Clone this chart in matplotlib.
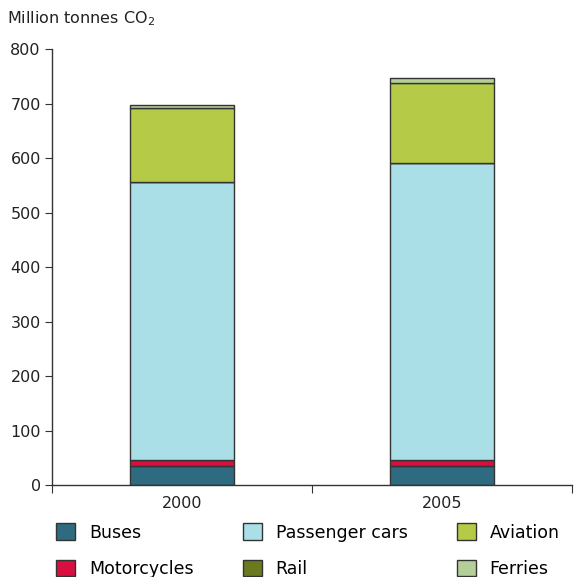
import matplotlib
matplotlib.use("Agg")
import matplotlib.pyplot as plt
import numpy as np

years = ["2000", "2005"]
categories = ["Buses", "Motorcycles", "Passenger cars", "Rail", "Aviation", "Ferries"]
buses = [34, 34]
motorcycles = [12, 12]
passenger_cars = [510, 544]
rail = [0.5, 0.5]
aviation = [136, 147]
ferries = [5, 9]
colors = ["#2E6B80", "#D7103F", "#ABDFE8", "#6B7A1F", "#B5CB48", "#B5CF98"]
yticks = [0, 100, 200, 300, 400, 500, 600, 700, 800]

series = [buses, motorcycles, passenger_cars, rail, aviation, ferries]

fig = plt.figure(figsize=(5.77, 5.77), dpi=100)
ax = fig.add_axes([0.090, 0.1594, 0.901, 0.7556])

x = np.array([0.5, 1.5])
bottom = np.zeros(2)
handles = []
for name, vals, c in zip(categories, series, colors):
    b = ax.bar(x, vals, width=0.4, bottom=bottom, color=c, edgecolor="#333333",
               linewidth=1.0, label=name)
    handles.append(b)
    bottom += np.array(vals)

ax.set_xlim(0, 2)
ax.set_ylim(0, 800)
ax.set_yticks(yticks)
ax.set_yticklabels([str(v) for v in yticks], fontsize=11.5, color="#222222")
ax.set_xticks([0, 1, 2])
ax.set_xticklabels([])
ax.set_xticks(x, minor=True)
ax.set_xticklabels(years, minor=True, fontsize=11.5, color="#222222")
ax.tick_params(axis="x", which="major", direction="out", length=6, color="#333333")
ax.tick_params(axis="x", which="minor", length=0, pad=8)
ax.tick_params(axis="y", direction="out", length=5, color="#333333", pad=3)
for s in ["top", "right"]:
    ax.spines[s].set_visible(False)
for s in ["left", "bottom"]:
    ax.spines[s].set_color("#333333")
    ax.spines[s].set_linewidth(1.0)

fig.text(0.012, 0.968, "Million tonnes CO$_2$", fontsize=11.5, color="#222222",
         ha="left", va="center")

leg = fig.legend(handles=handles, labels=categories, ncol=3, loc="upper left",
                 bbox_to_anchor=(0.085, 0.105), frameon=False, fontsize=12.5,
                 handlelength=1.1, handleheight=1.1, columnspacing=2.83,
                 labelspacing=1.04, handletextpad=0.8, borderaxespad=0)

fig.savefig("out.png", dpi=100)
